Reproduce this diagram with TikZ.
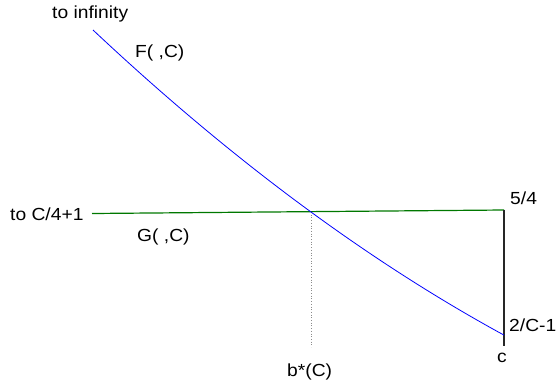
\documentclass[tikz,border=0pt]{standalone}
\usepackage{fontspec}
\setmainfont{Liberation Sans}[FakeStretch=1.1]
\begin{document}
\begin{tikzpicture}[x=1pt,y=-1pt,
  lbl/.style={anchor=base west,inner sep=0pt,font=\fontsize{17.5}{19}\selectfont},
  fcurve/.style={draw=blue,line width=0.8pt},
  gline/.style={draw={rgb,255:red,0;green,120;blue,0},line width=1.2pt},
  bound/.style={draw=black!85,line width=1.2pt},
  guide/.style={draw=black!45,dotted,line width=0.7pt}]
\useasboundingbox (0,0) rectangle (557,386);
% coordinates
\coordinate (ftop) at (93,30);
\coordinate (x) at (311,212);
\coordinate (fend) at (504,336);
\coordinate (gleft) at (92,213.5);
\coordinate (gright) at (504,210);
\coordinate (cbot) at (504,346);
\coordinate (xbot) at (311,347);
% curves and lines
\draw[gline] (gleft) -- (gright);
\draw[bound] (gright) -- (cbot);
\draw[guide] (x) -- (xbot);
\draw[fcurve] plot[domain=93:504,samples=80]
  (\x,{30+0.8349*(\x-93)-(0.0219*(\x-93))*(0.0219*(\x-311))});
% labels
\node[lbl] (tinf) at (52,18.5) {to infinity};
\node[lbl] (flab) at (135,57.5) {F( ,C)};
\node[lbl] (tc) at (10,220) {to C/4+1};
\node[lbl] (glab) at (137,241.5) {G( ,C)};
\node[lbl] (fivefour) at (510,204) {5/4};
\node[lbl] (twoc) at (509,331.5) {2/C-1};
\node[lbl] (clab) at (497,362.5) {c};
\node[lbl] (bstar) at (287,376.5) {b*(C)};
\end{tikzpicture}
\end{document}
